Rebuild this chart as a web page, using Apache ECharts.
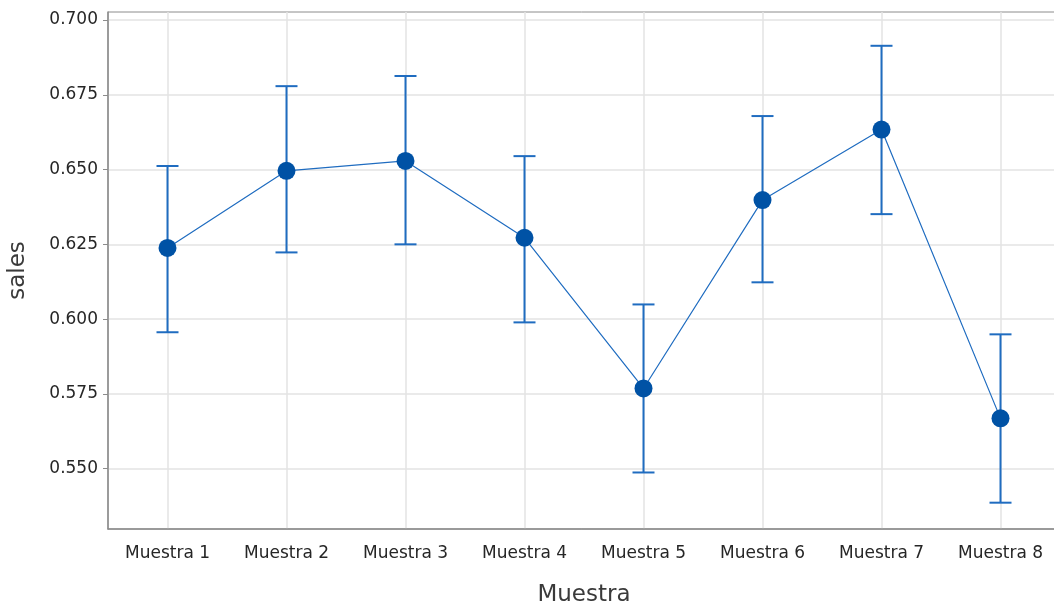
<!DOCTYPE html>
<html>
<head>
<meta charset="utf-8">
<script src="https://cdn.jsdelivr.net/npm/echarts@6/dist/echarts.min.js"></script>
<style>
  html, body { margin: 0; padding: 0; background: #ffffff; }
  #chart { width: 1054px; height: 608px; }
</style>
</head>
<body>
<div id="chart"></div>
<script>
// Sample means of "sales" with their interval bounds
const categories = ['Muestra 1', 'Muestra 2', 'Muestra 3', 'Muestra 4', 'Muestra 5', 'Muestra 6', 'Muestra 7', 'Muestra 8'];
const means = [0.6238, 0.6496, 0.6529, 0.6272, 0.5768, 0.6398, 0.6634, 0.5668];
const upper = [0.6512, 0.6779, 0.6813, 0.6545, 0.6049, 0.6679, 0.6914, 0.5949];
const lower = [0.5956, 0.6223, 0.6250, 0.5989, 0.5487, 0.6123, 0.6351, 0.5386];
const yTicks = [0.550, 0.575, 0.600, 0.625, 0.650, 0.675, 0.700];

const FONT = '"DejaVu Sans", "Open Sans", sans-serif';
const BAR_COLOR = '#1f6cc0';
const MEAN_COLOR = '#0052a5';

const chart = echarts.init(document.getElementById('chart'));

const errorData = categories.map((c, i) => [i, lower[i], upper[i]]);

chart.setOption({
  animation: false,
  backgroundColor: '#ffffff',
  grid: {
    left: 108, right: -6, top: 12, bottom: 79,
    outerBoundsMode: 'none',
    show: true, borderColor: '#8c8c8c', borderWidth: 1
  },
  xAxis: {
    type: 'category',
    data: categories,
    boundaryGap: true,
    name: 'Muestra',
    nameLocation: 'middle',
    nameGap: 55,
    nameTextStyle: { fontFamily: FONT, fontSize: 23, color: '#3a3a3a' },
    axisLine: { lineStyle: { color: '#8c8c8c', width: 1.5 } },
    axisTick: { alignWithLabel: true, length: 5, lineStyle: { color: '#8c8c8c' } },
    axisLabel: { fontFamily: FONT, fontSize: 17, color: '#262626', margin: 16 },
    splitLine: { show: true, alignWithLabel: true, lineStyle: { color: '#e3e3e3', width: 1.5 } }
  },
  yAxis: {
    type: 'value',
    min: 0.5298,
    max: 0.7027,
    name: 'sales',
    nameLocation: 'middle',
    nameGap: 78,
    nameTextStyle: { fontFamily: FONT, fontSize: 23, color: '#3a3a3a' },
    axisLine: { show: true, lineStyle: { color: '#8c8c8c', width: 1.5 } },
    axisTick: { show: true, length: 5, customValues: yTicks, lineStyle: { color: '#8c8c8c' } },
    axisLabel: {
      fontFamily: FONT, fontSize: 17, color: '#262626', margin: 10,
      customValues: yTicks,
      formatter: v => v.toFixed(3)
    },
    splitLine: { show: true, lineStyle: { color: '#e3e3e3', width: 1.5 } }
  },
  series: [
    {
      type: 'custom',
      name: 'interval',
      data: errorData,
      z: 2,
      renderItem: function (params, api) {
        const x = api.value(0);
        const lo = api.coord([x, api.value(1)]);
        const hi = api.coord([x, api.value(2)]);
        const half = 11;
        const style = { stroke: BAR_COLOR, lineWidth: 2 };
        return {
          type: 'group',
          children: [
            { type: 'line', shape: { x1: lo[0], y1: lo[1], x2: hi[0], y2: hi[1] }, style },
            { type: 'line', shape: { x1: hi[0] - half, y1: hi[1], x2: hi[0] + half, y2: hi[1] }, style },
            { type: 'line', shape: { x1: lo[0] - half, y1: lo[1], x2: lo[0] + half, y2: lo[1] }, style }
          ]
        };
      }
    },
    {
      type: 'line',
      name: 'mean',
      data: means,
      z: 3,
      symbol: 'circle',
      symbolSize: 18,
      itemStyle: { color: MEAN_COLOR },
      lineStyle: { color: BAR_COLOR, width: 1.2 }
    }
  ]
});
</script>
</body>
</html>
